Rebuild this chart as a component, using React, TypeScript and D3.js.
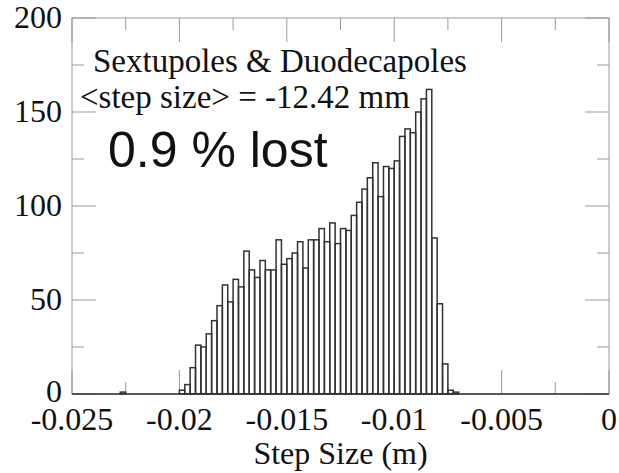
import React from "react";
import * as d3 from "d3";

const xTickValues = [-0.025, -0.02, -0.015, -0.01, -0.005, 0];
const xTickLabels = ["-0.025", "-0.02", "-0.015", "-0.01", "-0.005", "0"];
const xMinorTicks = [-0.0225, -0.0175, -0.0125, -0.0075, -0.0025];
const yTickValues = [0, 50, 100, 150, 200];
const yTickLabels = ["0", "50", "100", "150", "200"];
const yMinorTicks = [25, 75, 125, 175];

// main histogram block
const binStart = -0.02;
const binWidth = 0.00025;
const counts = [
  2, 5, 14, 26, 25, 32, 39, 47, 58, 49, 61, 57, 76, 66, 62, 71, 66, 66, 82, 69,
  72, 75, 81, 67, 82, 82, 88, 81, 91, 80, 88, 87, 95, 102, 109, 115, 123, 105,
  121, 120, 124, 137, 141, 139, 150, 157, 162, 83, 48, 16, 2, 1,
];
// isolated bin
const strayBinLeft = [-0.02275];
const strayCounts = [1];

const titleLines = ["Sextupoles & Duodecapoles", "<step size> = -12.42 mm"];
const lostLabel = "0.9 % lost";
const xAxisTitle = "Step Size (m)";

export default function App() {
  const W = 619;
  const H = 473;
  const left = 72;
  const right = 609;
  const top = 18;
  const bottom = 394;
  const x = d3.scaleLinear().domain([-0.025, 0]).range([left, right]);
  const y = d3.scaleLinear().domain([0, 200]).range([bottom, top]);

  const bins = counts.map((c, i) => ({ x0: binStart + i * binWidth, c }));
  const stray = strayBinLeft.map((x0, i) => ({ x0, c: strayCounts[i] }));
  const allBins = [...stray, ...bins];

  const gray = "#9a9a9a";
  const dark = "#333333";
  const serif = "'Liberation Serif', 'DejaVu Serif', serif";
  const sans = "'Liberation Sans', Arial, sans-serif";
  const majorLen = 24;
  const minorLen = 12;

  return (
    <svg
      width={W}
      height={H}
      style={{ position: "absolute", left: 0, top: 0, background: "#fff" }}
    >
      <rect x={0} y={0} width={W} height={H} fill="#fff" />
      {/* frame */}
      <rect
        x={left}
        y={top}
        width={right - left}
        height={bottom - top}
        fill="none"
        stroke={gray}
        strokeWidth={1}
      />
      {/* x ticks */}
      {xTickValues.map((v, i) => (
        <g key={"xt" + i}>
          <line x1={x(v)} x2={x(v)} y1={bottom} y2={bottom - majorLen} stroke={gray} />
          <line x1={x(v)} x2={x(v)} y1={top} y2={top + majorLen} stroke={gray} />
        </g>
      ))}
      {xMinorTicks.map((v, i) => (
        <g key={"xm" + i}>
          <line x1={x(v)} x2={x(v)} y1={bottom} y2={bottom - minorLen} stroke={gray} />
          <line x1={x(v)} x2={x(v)} y1={top} y2={top + minorLen} stroke={gray} />
        </g>
      ))}
      {/* y ticks */}
      {yTickValues.map((v, i) => (
        <g key={"yt" + i}>
          <line x1={left} x2={left + majorLen} y1={y(v)} y2={y(v)} stroke={gray} />
          <line x1={right} x2={right - majorLen} y1={y(v)} y2={y(v)} stroke={gray} />
        </g>
      ))}
      {yMinorTicks.map((v, i) => (
        <g key={"ym" + i}>
          <line x1={left} x2={left + minorLen} y1={y(v)} y2={y(v)} stroke={gray} />
          <line x1={right} x2={right - minorLen} y1={y(v)} y2={y(v)} stroke={gray} />
        </g>
      ))}
      {/* histogram */}
      <line x1={x(-0.025)} x2={x(0)} y1={y(0)} y2={y(0)} stroke={dark} strokeWidth={1.5} />
      {allBins.map((b, i) => (
        <rect
          key={"b" + i}
          x={x(b.x0)}
          y={y(b.c)}
          width={x(b.x0 + binWidth) - x(b.x0)}
          height={y(0) - y(b.c)}
          fill="none"
          stroke={dark}
          strokeWidth={1.5}
        />
      ))}
      {/* tick labels */}
      {xTickValues.map((v, i) => (
        <text
          key={"xl" + i}
          x={x(v)}
          y={430}
          textAnchor="middle"
          fontFamily={serif}
          fontSize={32}
          fill="#111"
        >
          {xTickLabels[i]}
        </text>
      ))}
      {yTickValues.map((v, i) => (
        <text
          key={"yl" + i}
          x={62}
          y={y(v) + (i === 0 ? 8 : 10)}
          textAnchor="end"
          fontFamily={serif}
          fontSize={32}
          fill="#111"
        >
          {yTickLabels[i]}
        </text>
      ))}
      <text
        x={(left + right) / 2}
        y={464}
        textAnchor="middle"
        fontFamily={serif}
        fontSize={32}
        fill="#111"
      >
        {xAxisTitle}
      </text>
      <text x={93} y={72} fontFamily={serif} fontSize={33} fill="#111">
        {titleLines[0]}
      </text>
      <text x={80} y={108} fontFamily={serif} fontSize={33} fill="#111">
        {titleLines[1]}
      </text>
      <text x={108} y={167} fontFamily={sans} fontSize={50} fill="#111">
        {lostLabel}
      </text>
    </svg>
  );
}
